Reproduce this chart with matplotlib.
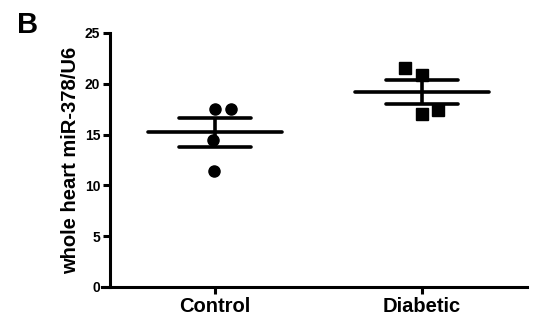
import numpy as np
import matplotlib
matplotlib.use("Agg")
import matplotlib.pyplot as plt

# values
groups = ["Control", "Diabetic"]
control = [17.5, 17.5, 14.5, 11.4]
diabetic = [21.6, 20.9, 17.4, 17.0]
y_ticks = [0, 5, 10, 15, 20, 25]

plt.rcParams["font.family"] = ["Liberation Sans", "DejaVu Sans"]
plt.rcParams["font.weight"] = "bold"

fig = plt.figure(figsize=(5.33, 3.28), dpi=100)
ax = fig.add_axes([102 / 533, 41 / 328, 425 / 533, 254 / 328])

# small horizontal offsets so overlapping points stay visible
jitter = [[0.0, 0.077, -0.01, -0.005], [-0.082, 0.0, 0.077, 0.0]]
markers = ["o", "s"]
msizes = [8, 9]

for i, vals in enumerate([control, diabetic]):
    x0 = i + 1
    vals = np.asarray(vals)
    mean = vals.mean()
    sem = vals.std(ddof=1) / np.sqrt(len(vals))
    ax.plot(x0 + np.asarray(jitter[i]), vals, linestyle="none", marker=markers[i],
            markersize=msizes[i], color="black", zorder=3)
    ax.hlines(mean, x0 - 0.325, x0 + 0.325, color="black", lw=2.6, capstyle="round")
    ax.hlines([mean - sem, mean + sem], x0 - 0.175, x0 + 0.175, color="black",
              lw=2.6, capstyle="round")
    ax.vlines(x0, mean - sem, mean + sem, color="black", lw=2.6)

ax.set_xlim(0.455, 2.507)
ax.set_ylim(0, 25)
ax.set_xticks([1, 2])
ax.set_xticklabels(groups, fontsize=14.5, fontweight="bold")
ax.set_yticks(y_ticks)
ax.set_yticklabels([str(t) for t in y_ticks], fontsize=12, fontweight="bold")
ax.set_ylabel("whole heart miR-378/U6", fontsize=14.5, fontweight="bold", labelpad=3)

for side in ["top", "right"]:
    ax.spines[side].set_visible(False)
for side in ["left", "bottom"]:
    ax.spines[side].set_linewidth(2.2)
ax.spines["left"].set_position(("data", 0.493))
ax.tick_params(axis="both", width=2.2, length=5, direction="out", pad=2)

fig.text(17 / 533, 1 - 33 / 328, "B", fontsize=21, fontweight="bold", ha="left", va="baseline")

fig.savefig("out.png", dpi=100)
